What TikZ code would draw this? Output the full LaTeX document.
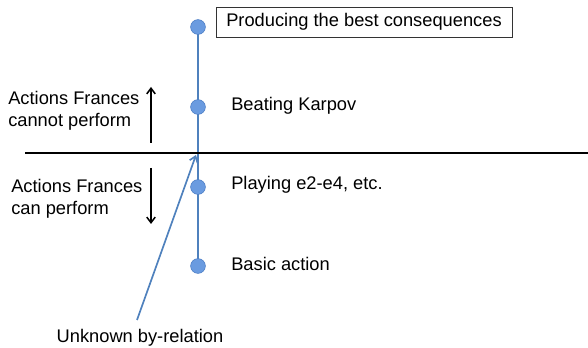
\documentclass[tikz,border=0pt]{standalone}
\usepackage{fontspec}
\setmainfont{Liberation Sans}
\usepackage{tikz}
\usepackage{xcolor}
\usetikzlibrary{arrows.meta, positioning, backgrounds}
\definecolor{ActBlue}{HTML}{4F81BD}
\definecolor{ActDot}{HTML}{6A9BE0}
\definecolor{ActDotEdge}{HTML}{4A7CC4}
\tikzset{
    % Node styles
    actdot/.style={
        circle,
        draw=ActDotEdge,
        fill=ActDot,
        line width=0.4pt,
        minimum size=0.37cm,
        inner sep=0pt
    },
    actlabel/.style={
        anchor=base west,
        inner sep=0pt,
        font=\fontsize{13}{15.6}\selectfont
    },
    sidelabel/.style={
        anchor=north west,
        inner sep=0pt,
        align=left,
        font=\fontsize{13}{15.6}\selectfont
    },
    goalbox/.style={
        rectangle,
        draw=black!80,
        line width=0.6pt,
        minimum width=7.4cm,
        minimum height=0.75cm,
        text centered,
        font=\fontsize{13}{15.6}\selectfont
    },
    % Line styles
    byline/.style={
        draw=ActBlue,
        line width=1.4pt
    },
    byarrow/.style={
        -{Straight Barb[length=4pt,width=6pt]},
        draw=ActBlue,
        line width=1.2pt
    },
    divider/.style={
        draw=black,
        line width=1.2pt
    },
    levelarrow/.style={
        -{Straight Barb[length=4pt,width=6pt]},
        draw=black,
        line width=1.1pt
    }
}
\begin{document}
\begin{tikzpicture}[x=0.025cm, y=-0.025cm]
    \useasboundingbox (0,0) rectangle (588,348);

    \node[actdot] (best) at (198,27) {};
    \node[actdot] (karpov) at (198,107) {};
    \node[actdot] (play) at (198,187) {};
    \node[actdot] (basic) at (198,266) {};

    \begin{scope}[on background layer]
        \draw[byline] (best.center) -- (basic.center);
    \end{scope}

    \node[goalbox] (bestlbl) at (364,22) {Producing the best consequences};
    \node[actlabel] (karpovlbl) at (231,111) {Beating Karpov};
    \node[actlabel] (playlbl) at (231,190) {Playing e2-e4, etc.};
    \node[actlabel] (basiclbl) at (231,271) {Basic action};

    \coordinate (divl) at (25,153);
    \coordinate (divr) at (588,153);
    \draw[divider] (divl) -- (divr);

    \node[sidelabel] (cannot) at (8,91) {Actions Frances\\cannot perform};
    \node[sidelabel] (can) at (11,179) {Actions Frances\\can perform};

    \coordinate (upfrom) at (151,143);
    \coordinate (upto) at (151,87);
    \coordinate (downfrom) at (151,168);
    \coordinate (downto) at (151,224);
    \draw[levelarrow] (upfrom) -- (upto);
    \draw[levelarrow] (downfrom) -- (downto);

    \node[actlabel, anchor=base] (unknown) at (140,343) {Unknown by-relation};
    \coordinate (bytail) at (137,320);
    \coordinate (cross) at (196,155);
    \draw[byarrow] (bytail) -- (cross);
\end{tikzpicture}
\end{document}
